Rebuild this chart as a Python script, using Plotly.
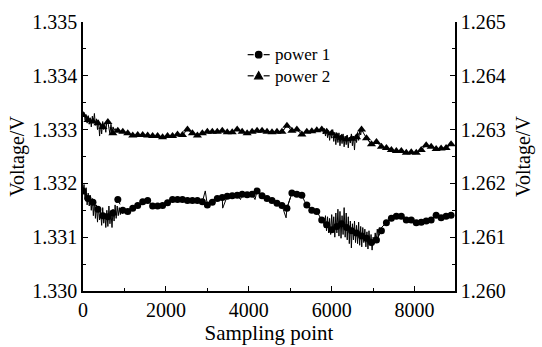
import plotly.graph_objects as go

# sampling points of the plotted markers (every 120 samples)
marker_x = list(range(0, 8881, 120))

# power 1 (left axis) marker values
p1_marker = [1.33186, 1.33172, 1.33165, 1.33152, 1.33140, 1.33138, 1.33145, 1.33170, 1.33150, 1.33148,
             1.33154, 1.33159, 1.33166, 1.33168, 1.33158, 1.33158, 1.33159, 1.33164, 1.33170, 1.33170,
             1.33170, 1.33168, 1.33168, 1.33168, 1.33166, 1.33160, 1.33165, 1.33172, 1.33174, 1.33176,
             1.33177, 1.33178, 1.33180, 1.33179, 1.33180, 1.33186, 1.33177, 1.33172, 1.33168, 1.33163,
             1.33159, 1.33154, 1.33182, 1.33180, 1.33178, 1.33160, 1.33150, 1.33148, 1.33132, 1.33123,
             1.33114, 1.33120, 1.33125, 1.33118, 1.33112, 1.33108, 1.33102, 1.33098, 1.33090, 1.33095,
             1.33112, 1.33127, 1.33135, 1.33139, 1.33139, 1.33132, 1.33132, 1.33127, 1.33128, 1.33130,
             1.33132, 1.33141, 1.33136, 1.33139, 1.33141]

# power 2 (right axis) marker values
p2_marker = [1.26327, 1.26318, 1.26315, 1.26312, 1.26305, 1.26314, 1.26293, 1.26298, 1.26296, 1.26293,
             1.26289, 1.26290, 1.26290, 1.26289, 1.26288, 1.26288, 1.26286, 1.26288, 1.26288, 1.26291,
             1.26290, 1.26300, 1.26293, 1.26289, 1.26293, 1.26296, 1.26296, 1.26296, 1.26298, 1.26295,
             1.26295, 1.26300, 1.26296, 1.26293, 1.26296, 1.26298, 1.26298, 1.26296, 1.26295, 1.26296,
             1.26296, 1.26307, 1.26298, 1.26300, 1.26291, 1.26296, 1.26297, 1.26299, 1.26300, 1.26296,
             1.26293, 1.26288, 1.26285, 1.26282, 1.26283, 1.26286, 1.26300, 1.26284, 1.26273, 1.26277,
             1.26268, 1.26266, 1.26262, 1.26260, 1.26260, 1.26257, 1.26258, 1.26257, 1.26262, 1.26271,
             1.26268, 1.26264, 1.26265, 1.26266, 1.26273]

# dense (noisy) raw segments of power 1
p1_noise1_x = list(range(0, 1001, 25))
p1_noise1 = [1.33185, 1.33198, 1.33170, 1.33192, 1.33160, 1.33182, 1.33158, 1.33178, 1.33150, 1.33172,
             1.33140, 1.33168, 1.33135, 1.33160, 1.33128, 1.33158, 1.33132, 1.33150, 1.33122, 1.33155,
             1.33126, 1.33145, 1.33118, 1.33150, 1.33120, 1.33158, 1.33125, 1.33148, 1.33118, 1.33152,
             1.33130, 1.33160, 1.33135, 1.33158, 1.33140, 1.33155, 1.33142, 1.33152, 1.33144, 1.33150,
             1.33148]
p1_noise2_x = list(range(5800, 7201, 25))
p1_noise2 = [1.33130, 1.33118, 1.33140, 1.33112, 1.33138, 1.33108, 1.33135, 1.33105, 1.33142, 1.33110,
             1.33138, 1.33100, 1.33145, 1.33108, 1.33152, 1.33102, 1.33148, 1.33098, 1.33140, 1.33105,
             1.33155, 1.33100, 1.33145, 1.33095, 1.33138, 1.33088, 1.33130, 1.33080, 1.33125, 1.33095,
             1.33130, 1.33090, 1.33122, 1.33088, 1.33128, 1.33085, 1.33120, 1.33082, 1.33118, 1.33090,
             1.33115, 1.33082, 1.33110, 1.33078, 1.33112, 1.33085, 1.33105, 1.33076, 1.33100, 1.33088,
             1.33108, 1.33092, 1.33115, 1.33100, 1.33118, 1.33110, 1.33118]
p1_spike_x = [2950, 3370, 3800, 4150, 4900, 5350]
p1_spike = [1.33186, 1.33154, 1.33170, 1.33170, 1.33136, 1.33166]

# dense (noisy) raw segments of power 2
p2_noise1_x = list(range(0, 801, 25))
p2_noise1 = [1.26325, 1.26332, 1.26318, 1.26328, 1.26312, 1.26326, 1.26310, 1.26322, 1.26305, 1.26325,
             1.26312, 1.26330, 1.26308, 1.26320, 1.26300, 1.26318, 1.26288, 1.26312, 1.26292, 1.26315,
             1.26300, 1.26310, 1.26295, 1.26316, 1.26314, 1.26300, 1.26292, 1.26310, 1.26295, 1.26305,
             1.26298, 1.26302, 1.26298]
p2_noise2_x = list(range(5750, 6701, 25))
p2_noise2 = [1.26300, 1.26305, 1.26292, 1.26302, 1.26288, 1.26300, 1.26285, 1.26298, 1.26280, 1.26296,
             1.26284, 1.26300, 1.26278, 1.26295, 1.26272, 1.26292, 1.26276, 1.26294, 1.26270, 1.26290,
             1.26274, 1.26292, 1.26268, 1.26288, 1.26272, 1.26290, 1.26266, 1.26286, 1.26275, 1.26292,
             1.26270, 1.26288, 1.26262, 1.26290, 1.26276, 1.26295, 1.26280, 1.26298, 1.26290]

x_ticks = [0, 2000, 4000, 6000, 8000]
y1_ticks = [1.330, 1.331, 1.332, 1.333, 1.334, 1.335]
y2_ticks = [1.260, 1.261, 1.262, 1.263, 1.264, 1.265]
series_names = ["power 1", "power 2"]


def build_line(segments, mx, my):
    pts = []
    for sx, sy in segments:
        pts += list(zip(sx, sy))
    ranges = [(min(sx), max(sx)) for sx, sy in segments if len(sx) > 10]
    for x, y in zip(mx, my):
        if not any(a <= x <= b for a, b in ranges):
            pts.append((x, y))
    pts.sort()
    return [p[0] for p in pts], [p[1] for p in pts]


l1x, l1y = build_line([(p1_noise1_x, p1_noise1), (p1_noise2_x, p1_noise2), (p1_spike_x, p1_spike)],
                      marker_x, p1_marker)
l2x, l2y = build_line([(p2_noise1_x, p2_noise1), (p2_noise2_x, p2_noise2)], marker_x, p2_marker)

FONT = "Times New Roman, Liberation Serif, Times, serif"
fig = go.Figure()
fig.add_trace(go.Scatter(x=l1x, y=l1y, mode="lines", line=dict(color="black", width=1),
                         showlegend=False, hoverinfo="skip"))
fig.add_trace(go.Scatter(x=l2x, y=l2y, mode="lines", line=dict(color="black", width=1),
                         showlegend=False, hoverinfo="skip", yaxis="y2"))
fig.add_trace(go.Scatter(x=marker_x, y=p1_marker, mode="lines+markers", name=series_names[0],
                         line=dict(color="black", width=1, dash="dash"), showlegend=False,
                         marker=dict(symbol="circle", size=7, color="black")))
fig.add_trace(go.Scatter(x=marker_x, y=p2_marker, mode="lines+markers", name=series_names[1], yaxis="y2",
                         line=dict(color="black", width=1, dash="dash"), showlegend=False,
                         marker=dict(symbol="triangle-up", size=8, color="black")))

# compact legend drawn with pixel-sized shapes + one two-line text annotation
PLOT_W, PLOT_H = 378, 280
lx = (261.5 - 83) / PLOT_W
row_px = [45, 67]
legend_shapes = []
for py, sym in zip(row_px, ["circle", "triangle"]):
    ly = (291 - py) / PLOT_H
    common = dict(xref="paper", yref="paper", xsizemode="pixel", ysizemode="pixel",
                  xanchor=lx, yanchor=ly, line=dict(color="black", width=1.2))
    legend_shapes.append(dict(type="line", x0=-11, x1=-5, y0=0, y1=0, **common))
    legend_shapes.append(dict(type="line", x0=5, x1=11, y0=0, y1=0, **common))
    if sym == "circle":
        legend_shapes.append(dict(type="circle", x0=-3.3, x1=3.3, y0=-3.3, y1=3.3,
                                  fillcolor="black", **common))
    else:
        legend_shapes.append(dict(type="path", path="M -4 -3 L 4 -3 L 0 4 Z",
                                  fillcolor="black", **common))
legend_anno = dict(text="<br>".join(series_names), xref="paper", yref="paper",
                   x=lx + 14.5 / PLOT_W, y=(291 - (row_px[0] + row_px[1]) / 2) / PLOT_H,
                   xanchor="left", yanchor="middle", align="left", showarrow=False,
                   font=dict(family=FONT, size=17, color="black"))

axis_common = dict(showgrid=False, zeroline=False, showline=True, linecolor="black", linewidth=1.5,
                   ticks="inside", ticklen=5, tickcolor="black", tickwidth=1,
                   tickfont=dict(family=FONT, size=20, color="black"))

fig.update_layout(
    width=542, height=347,
    margin=dict(l=83, r=81, t=11, b=56),
    paper_bgcolor="white", plot_bgcolor="white",
    font=dict(family=FONT, color="black"),
    xaxis=dict(range=[0, 8975], tickvals=x_ticks, ticktext=[str(v) for v in x_ticks],
               minor=dict(ticks="inside", ticklen=3, dtick=1000, tickcolor="black"),
               title=dict(text="Sampling point", font=dict(family=FONT, size=21), standoff=0),
               **axis_common),
    yaxis=dict(range=[1.330, 1.335], tickvals=y1_ticks, ticktext=[f"{v:.3f}" for v in y1_ticks],
               minor=dict(ticks="inside", ticklen=3, dtick=0.0005, tickcolor="black"),
               title=dict(text="Voltage/V", font=dict(family=FONT, size=20), standoff=2),
               **axis_common),
    yaxis2=dict(range=[1.260, 1.265], overlaying="y", side="right", anchor="x",
                tickvals=y2_ticks, ticktext=[f"{v:.3f}" for v in y2_ticks],
                minor=dict(ticks="inside", ticklen=3, dtick=0.0005, tickcolor="black"),
                title=dict(text="Voltage/V", font=dict(family=FONT, size=20), standoff=11),
                **axis_common),
    shapes=legend_shapes,
    annotations=[legend_anno],
    showlegend=False,
)

fig.write_html("out.html")
